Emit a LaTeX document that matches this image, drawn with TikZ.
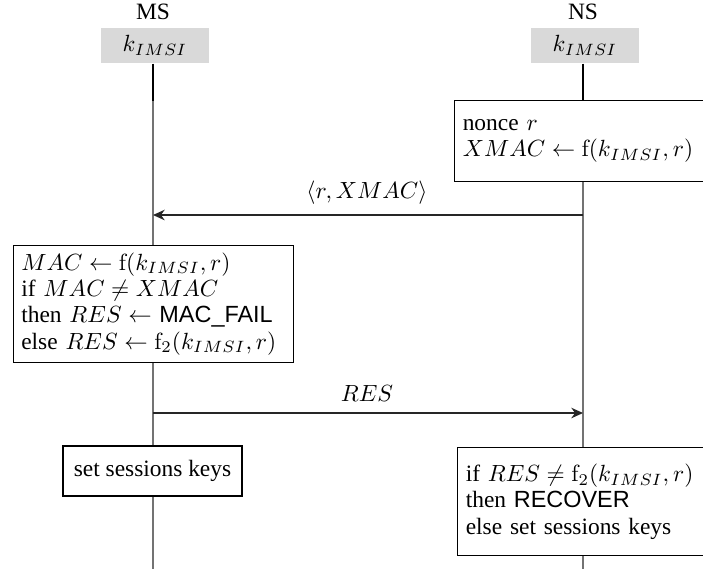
\documentclass[tikz,border=0pt]{standalone}
\usepackage[no-math]{fontspec}
\setmainfont{Liberation Serif}
\setsansfont{Liberation Sans}
\usetikzlibrary{arrows.meta}
\begin{document}
\begin{tikzpicture}[x=0.427pt,y=-0.427pt,
  every node/.style={font=\fontsize{10}{11.2}\selectfont},
  keybox/.style={fill=black!15, minimum width=46.5pt, minimum height=15pt, inner sep=0pt},
  procbox/.style={draw, fill=white, anchor=north west, align=left, inner sep=3.1pt, line width=0.5pt},
  life/.style={draw=black!55, line width=0.6pt},
  lifetop/.style={draw=black, line width=1.1pt},
  msg/.style={draw=black!85, line width=0.6pt, -{Stealth[length=5pt,width=4.5pt,inset=1.6pt]}}]
\clip (0,0) rectangle (703,569);
% participants
\node (msl) at (153,12) {MS};
\node (nsl) at (583,12) {NS};
\node[keybox] (msk) at (155,45.5) {$k_{IMSI}$};
\node[keybox] (nsk) at (585,45.5) {$k_{IMSI}$};
\coordinate (msa) at (153,101);
\coordinate (nsa) at (583,101);
\coordinate (msend) at (153,569);
\coordinate (nsend) at (583,569);
\draw[life] (msa) -- (msend);
\draw[life] (nsa) -- (nsend);
\draw[lifetop] (msk.south -| msa) -- (msa);
\draw[lifetop] (nsk.south -| nsa) -- (nsa);
% NS first box
\node[procbox, minimum width=110pt, minimum height=34.6pt, text width=103pt] (nsb1) at (454,100)
  {nonce $r$\\ $XMAC \leftarrow \mathrm{f}(k_{IMSI},r)$};
% message 1
\coordinate (m1s) at (583,215);
\coordinate (m1e) at (153,215);
\draw[msg] (m1s) -- (m1e);
\node (m1l) at (367,193) {$\langle r, XMAC\rangle$};
% MS box
\node[procbox, minimum width=119.6pt, minimum height=47pt, text width=113pt] (msb1) at (13,245)
  {$MAC \leftarrow \mathrm{f}(k_{IMSI},r)$\\
   if $MAC \neq XMAC$\\
   then $RES \leftarrow$ \textsf{MAC\_FAIL}\\
   else $RES \leftarrow \mathrm{f}_2(k_{IMSI},r)$};
% message 2
\coordinate (m2s) at (153,413);
\coordinate (m2e) at (583,413);
\draw[msg] (m2s) -- (m2e);
\node (m2l) at (367,393) {$RES$};
% MS final box
\node[procbox, minimum width=76.4pt, minimum height=21.4pt, anchor=center] (msb2) at (152.5,471) {set sessions keys};
% NS final box
\node[procbox, minimum width=110pt, minimum height=46.1pt, text width=103pt] (nsb2) at (457,447)
  {if $RES \neq \mathrm{f}_2(k_{IMSI},r)$\\
   then \textsf{RECOVER}\\
   else set sessions keys};
\end{tikzpicture}
\end{document}
